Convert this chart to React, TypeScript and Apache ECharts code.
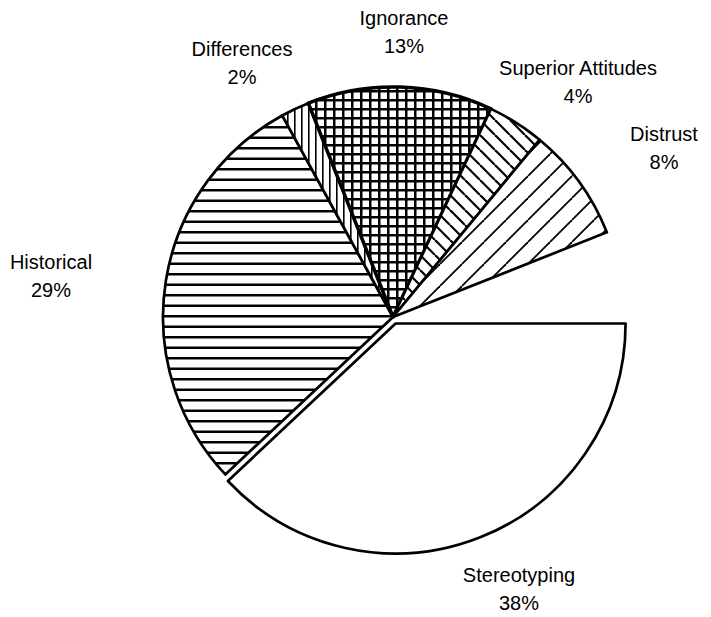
import React, { useEffect, useRef } from "react";
import * as echarts from "echarts";

// Shares of each cause, in percent, clockwise from three o'clock
const categories = ["Stereotyping", "Historical", "Differences", "Ignorance", "Superior Attitudes", "Distrust"];
const shares = [38, 29, 2, 13, 4, 8];
// Part of the circle that is left blank (between Distrust and Stereotyping)
const blankShare = 6;

// Where each two-line label block is centred
const labelCenters: Record<string, [number, number]> = {
  Stereotyping: [519, 589],
  Historical: [51, 276],
  Differences: [242, 63],
  Ignorance: [404, 32],
  "Superior Attitudes": [578, 82],
  Distrust: [664, 148],
};

type Kind = "none" | "horizontal" | "vertical" | "grid" | "back" | "forward";
const fills: Kind[] = ["none", "horizontal", "vertical", "grid", "back", "forward"];

function tile(kind: Kind) {
  const c = document.createElement("canvas");
  let w = 8;
  let h = 8;
  if (kind === "horizontal") { w = 4; h = 21; }
  if (kind === "vertical") { w = 7; h = 4; }
  if (kind === "grid") { w = 9; h = 9; }
  if (kind === "back") { w = 15; h = 15; }
  if (kind === "forward") { w = 22; h = 22; }
  c.width = w;
  c.height = h;
  const g = c.getContext("2d")!;
  g.fillStyle = "#fff";
  g.fillRect(0, 0, w, h);
  g.fillStyle = "#000";
  g.strokeStyle = "#000";
  if (kind === "horizontal") {
    g.fillRect(0, 0, w, 2.5);
    g.fillRect(0, 10.5, w, 2.5);
  } else if (kind === "vertical") {
    g.fillRect(0, 0, 1.6, h);
  } else if (kind === "grid") {
    g.fillRect(0, 0, w, 2.5);
    g.fillRect(0, 0, 2.5, h);
  } else if (kind === "back" || kind === "forward") {
    g.lineWidth = kind === "back" ? 2.2 : 1.8;
    for (let k = -1; k <= 1; k++) {
      g.beginPath();
      if (kind === "back") {
        g.moveTo(k * w, 0);
        g.lineTo(k * w + w, h);
      } else {
        g.moveTo(k * w, h);
        g.lineTo(k * w + w, 0);
      }
      g.stroke();
    }
  }
  return { image: c.toDataURL(), repeat: "repeat", imageWidth: w, imageHeight: h };
}

export default function App() {
  const ref = useRef<HTMLDivElement>(null);

  useEffect(() => {
    if (!ref.current) return;
    const chart = echarts.init(ref.current, null, { renderer: "svg" });

    const data: any[] = categories.map((name, i) => {
      const fill = fills[i] === "none" ? "#ffffff" : tile(fills[i]);
      const bw = name === "Ignorance" ? 3.5 : 2.7;
      const style = { color: fill, borderColor: "#000", borderWidth: bw };
      return {
        name,
        value: shares[i],
        selected: name === "Stereotyping",
        itemStyle: style,
        select: { itemStyle: style },
        emphasis: { itemStyle: style },
      };
    });
    data.push({
      name: "",
      value: blankShare,
      itemStyle: { color: "rgba(0,0,0,0)", borderWidth: 0 },
      emphasis: { disabled: true },
      select: { disabled: true },
    });

    const labels = categories.map((name, i) => ({
      type: "text",
      x: labelCenters[name][0],
      y: labelCenters[name][1],
      silent: true,
      style: {
        text: `${name}\n${shares[i]}%`,
        fontFamily: "'Liberation Sans', Arial, sans-serif",
        fontSize: 20,
        lineHeight: 28,
        fill: "#000",
        align: "center",
        verticalAlign: "middle",
      },
    }));

    chart.setOption({
      animation: false,
      backgroundColor: "#ffffff",
      graphic: labels,
      series: [
        {
          type: "pie",
          center: [393, 317],
          radius: 230,
          startAngle: 0,
          clockwise: true,
          selectedMode: "single",
          selectedOffset: 7,
          label: { show: false },
          labelLine: { show: false },
          data,
        },
      ],
    });

    return () => chart.dispose();
  }, []);

  return (
    <div
      ref={ref}
      style={{ position: "fixed", left: 0, top: 0, width: 711, height: 617, background: "#fff" }}
    />
  );
}
